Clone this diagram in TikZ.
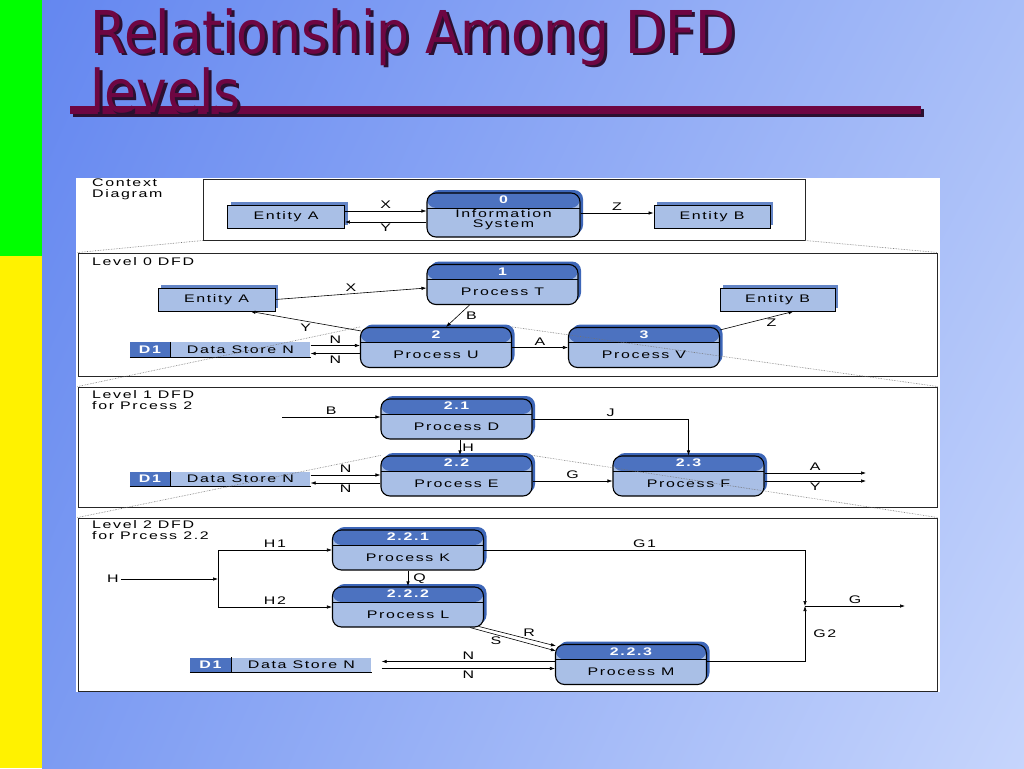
\documentclass[tikz,border=0pt]{standalone}
\usepackage{xcolor}
\usepackage{fontspec}
\setmainfont{Liberation Sans}
\newfontfamily\dfdfont[Scale=1.1,FakeStretch=1.45,LetterSpace=15]{Liberation Sans}
\newfontfamily\titlefont[FakeStretch=0.88]{DejaVu Sans}
\usetikzlibrary{positioning,shapes,arrows.meta,calc,shadows,shadings}

\definecolor{dfdlight}{HTML}{A9BFE6}
\definecolor{dfdblue}{HTML}{4C72C0}
\definecolor{dfdside}{HTML}{3D66B8}
\definecolor{titlered}{HTML}{6E0642}
\definecolor{titleshade}{HTML}{2B1030}
\definecolor{bgUL}{HTML}{6487F0}
\definecolor{bgUR}{HTML}{A8BEF8}
\definecolor{bgLL}{HTML}{7C9BF2}
\definecolor{bgLR}{HTML}{C6D5FC}

\begin{document}
\begin{tikzpicture}[x=1pt,y=-1pt,
    proc/.style={draw=black, line width=1.1pt, rounded corners=9pt, fill=dfdlight,
        minimum width=151pt, minimum height=40pt, inner sep=0pt, font=\dfdfont,
        text height=24pt, text depth=2pt,
        general shadow={fill=dfdside, shadow xshift=3pt, shadow yshift=3pt},
        path picture={
            \fill[dfdblue] (path picture bounding box.north west) rectangle ([yshift=-15pt]path picture bounding box.north east);
            \draw[line width=0.5pt] ([yshift=-15pt]path picture bounding box.north west) -- ([yshift=-15pt]path picture bounding box.north east);
        }},
    procnum/.style={font=\dfdfont\bfseries, text=white, inner sep=0pt},
    ent/.style={draw=black, line width=0.9pt, fill=dfdlight, minimum width=117pt,
        minimum height=23pt, inner sep=0pt, font=\dfdfont,
        general shadow={fill=dfdside!80, shadow xshift=3pt, shadow yshift=3pt}},
    d1box/.style={fill=dfdblue, text=white, font=\dfdfont\bfseries, minimum width=40pt,
        minimum height=15pt, inner sep=0pt},
    storebox/.style={fill=dfdlight, font=\dfdfont, minimum width=140pt, minimum height=15pt, inner sep=0pt},
    flow/.style={line width=0.6pt, -{Latex[length=5pt,width=3.5pt]}},
    lab/.style={font=\dfdfont, inner sep=2pt},
    frame/.style={draw=black!85, line width=1pt, inner sep=0pt},
    zoomline/.style={densely dotted, black!55, line width=0.6pt}]
    \useasboundingbox (0,0) rectangle (1024,768);

    % Slide background
    \shade[upper left=bgUL, upper right=bgUR, lower left=bgLL, lower right=bgLR] (42,0) rectangle (1024,768);
    \fill[green] (0,0) rectangle (42,256);
    \fill[yellow] (0,256) rectangle (42,768);

    % Title
    \draw[line width=8pt, titleshade] (73,113) -- (924,113);
    \draw[line width=8pt, titlered] (70,110) -- (921,110);
    \node[anchor=base west, inner sep=0pt, text=titleshade, font=\titlefont\fontsize{59pt}{62pt}\selectfont] (tsh1) at (93,56) {Relationship Among DFD};
    \node[anchor=base west, inner sep=0pt, text=titlered, font=\titlefont\fontsize{59pt}{62pt}\selectfont] (tline1) at (90,53) {Relationship Among DFD};
    \node[anchor=base west, inner sep=0pt, text=titleshade, font=\titlefont\fontsize{59pt}{62pt}\selectfont] (tsh2) at (93,115) {levels};
    \node[anchor=base west, inner sep=0pt, text=titlered, font=\titlefont\fontsize{59pt}{62pt}\selectfont] (tline2) at (90,112) {levels};

    % Diagram panel and frames
    \fill[white] (76,178) rectangle (940,692);
    \node[frame, minimum width=602pt, minimum height=61pt] (fctx) at (504,209.5) {};
    \node[frame, minimum width=859pt, minimum height=123pt] (f0) at (507.5,314.5) {};
    \node[frame, minimum width=859pt, minimum height=120pt] (f1) at (507.5,447) {};
    \node[frame, minimum width=859pt, minimum height=173pt] (f2) at (507.5,604.5) {};

    \node[lab, anchor=north west, align=left] (tctx) at (90,177) {Context\\[-1pt]Diagram};
    \node[lab, anchor=north west, align=left] (tl0) at (90,255) {Level 0 DFD};
    \node[lab, anchor=north west, align=left] (tl1) at (90,388) {Level 1 DFD\\[-1pt]for Prcess 2};
    \node[lab, anchor=north west, align=left] (tl2) at (90,518) {Level 2 DFD\\[-1pt]for Prcess 2.2};

    % Context diagram
    \node[ent] (ctxA) at (286,216.5) {Entity A};
    \node[ent, minimum width=116pt] (ctxB) at (712,216.5) {Entity B};
    \node[proc, minimum width=153pt, minimum height=44pt] (ctx0) at (503.5,215) {};
    \node[procnum] (ctx0n) at ([yshift=-7.5pt]ctx0.north) {0};
    \node[lab, align=center, inner sep=0pt] (ctx0t) at ([yshift=-5pt]ctx0.center) {Information\\[-2pt]System};

    \draw[flow] ([yshift=5.5pt]ctxA.east) -- ([yshift=5.5pt]ctxA.east -| ctx0.west) node[lab, midway, above] (cx) {X};
    \draw[flow] ([yshift=-5.5pt]ctxA.east -| ctx0.west) -- ([yshift=-5.5pt]ctxA.east) node[lab, midway, below] (cy) {Y};
    \draw[flow] ([yshift=2pt]ctx0.east) -- ([yshift=2pt]ctx0.east -| ctxB.west) node[lab, midway, above] (cz) {Z};

    % Processes of the three levels
    \foreach \n/\x/\y/\num/\txt in {l0T/502.5/284.5/1/Process T, l0U/436/347.5/2/Process U,
        l0V/644/347.5/3/Process V, l1D/456.5/419/2.1/Process D, l1E/456.5/476/2.2/Process E,
        l1F/688.5/476/2.3/Process F, l2K/408/550/2.2.1/Process K, l2L/408/607/2.2.2/Process L,
        l2M/631/664.5/2.2.3/Process M} {
        \node[proc] (\n) at (\x,\y) {\txt};
        \node[procnum] (\n-n) at ([yshift=-7.5pt]\n.north) {\num};
    }

    % Level 0 DFD
    \node[ent] (l0A) at (216.5,299.5) {Entity A};
    \node[ent, minimum width=115pt] (l0B) at (777.5,299.5) {Entity B};
    \node[d1box] (l0d1) at (150,349.5) {D1};
    \node[storebox, right=0pt of l0d1] (l0S) {Data Store N};
    \draw[line width=0.8pt] (l0d1.south west) -- (l0S.south east);
    \draw[line width=0.6pt] (l0d1.north east) -- (l0d1.south east);

    \draw[flow] (l0A.east) -- ([yshift=-3.5pt]l0T.west) node[lab, midway, above] (l0x) {X};
    \draw[flow] ($(l0U.north west)+(1,4)$) -- ([xshift=34pt]l0A.south) node[lab, midway, below] (l0y) {Y};
    \draw[flow] ([xshift=-33pt]l0T.south) -- ([xshift=10pt]l0U.north) node[lab, midway, right=6pt] (l0b) {B};
    \draw[flow] ([yshift=4pt]l0S.east) -- ([yshift=4pt]l0S.east -| l0U.west) node[lab, midway, above] (l0n1) {N};
    \draw[flow] ([yshift=-4pt]l0S.east -| l0U.west) -- ([yshift=-4pt]l0S.east) node[lab, midway, below] (l0n2) {N};
    \draw[flow] (l0U.east) -- (l0V.west) node[lab, midway, above] (l0a) {A};
    \draw[flow] ($(l0V.north east)+(0,3)$) -- ([xshift=16pt]l0B.south) node[lab, pos=0.7, below] (l0z) {Z};

    % Level 1 DFD
    \coordinate (l1in) at (282,417);
    \coordinate (l1outA) at (866,473);
    \coordinate (l1outY) at (866,481);
    \node[d1box] (l1d1) at (150,479) {D1};
    \node[storebox, right=0pt of l1d1] (l1S) {Data Store N};
    \draw[line width=0.8pt] (l1d1.south west) -- (l1S.south east);
    \draw[line width=0.6pt] (l1d1.north east) -- (l1d1.south east);

    \draw[flow] (l1in) -- (l1in -| l1D.west) node[lab, midway, above] (l1b) {B};
    \draw[flow, line width=0.9pt] ([xshift=3.5pt]l1D.south) -- ([xshift=3.5pt]l1E.north) node[lab, midway, right] (l1h) {H};
    \draw[flow] (l1D.east) -| (l1F.north) node[lab, pos=0.25, above] (l1j) {J};
    \draw[flow] ([yshift=4pt]l1S.east) -- ([yshift=4pt]l1S.east -| l1E.west) node[lab, midway, above] (l1n1) {N};
    \draw[flow] ([yshift=-4pt]l1S.east -| l1E.west) -- ([yshift=-4pt]l1S.east) node[lab, midway, below] (l1n2) {N};
    \draw[flow] ([yshift=-5pt]l1E.east) -- ([yshift=-5pt]l1E.east -| l1F.west) node[lab, midway, above] (l1g) {G};
    \draw[flow] (l1F.east |- l1outA) -- (l1outA) node[lab, midway, above] (l1a) {A};
    \draw[flow] (l1F.east |- l1outY) -- (l1outY) node[lab, midway, below] (l1y) {Y};

    % Level 2 DFD
    \node[lab] (l2h) at (113,579) {H};
    \coordinate (l2j) at (218,579);
    \coordinate (l2g) at (805,606);
    \coordinate (l2out) at (905,606);
    \node[d1box, minimum width=41pt] (l2d1) at (210.5,665) {D1};
    \node[storebox, right=0pt of l2d1] (l2S) {Data Store N};
    \draw[line width=0.8pt] (l2d1.south west) -- (l2S.south east);
    \draw[line width=0.6pt] (l2d1.north east) -- (l2d1.south east);

    \draw[flow] (l2h.east) -- (l2j);
    \draw[flow] (l2j) |- (l2K.west) node[lab, pos=0.75, above] (l2h1) {H1};
    \draw[flow] (l2j) |- (l2L.west) node[lab, pos=0.75, above] (l2h2) {H2};
    \draw[flow, line width=0.9pt] (l2K.south) -- (l2L.north) node[lab, midway, right=3pt] (l2q) {Q};
    \draw[flow] ($(l2L.south east)+(-5,-1)$) -- ($(l2M.north west)+(1,2)$) node[lab, pos=0.65, above] (l2r) {R};
    \draw[flow] ($(l2L.south east)+(-14,0)$) -- ($(l2M.north west)+(1,7)$) node[lab, pos=0.3, below] (l2s) {S};
    \draw[flow] ([yshift=3pt]l2M.west) -- ([xshift=10pt, yshift=3pt]l2M.west -| l2S.east) node[lab, midway, above] (l2n1) {N};
    \draw[flow] ([xshift=10pt, yshift=-4pt]l2M.west -| l2S.east) -- ([yshift=-4pt]l2M.west) node[lab, midway, below] (l2n2) {N};
    \draw[flow] (l2K.east) -| (l2g) node[lab, pos=0.25, above] (l2g1) {G1};
    \draw[flow] ([yshift=3.5pt]l2M.east) -| (l2g) node[lab, pos=0.75, right=6pt] (l2g2) {G2};
    \draw[flow] (l2g) -- (l2out) node[lab, midway, above] (l2go) {G};

    % Dotted zoom lines between levels
    \draw[zoomline] (fctx.south west) -- (f0.north west);
    \draw[zoomline] (fctx.south east) -- (f0.north east);
    \draw[zoomline] (l0U.north west) -- (f1.north west);
    \draw[zoomline] (l0U.north east) -- (f1.north east);
    \draw[zoomline] (l1E.north west) -- (f2.north west);
    \draw[zoomline] (l1E.north east) -- (f2.north east);
\end{tikzpicture}
\end{document}
